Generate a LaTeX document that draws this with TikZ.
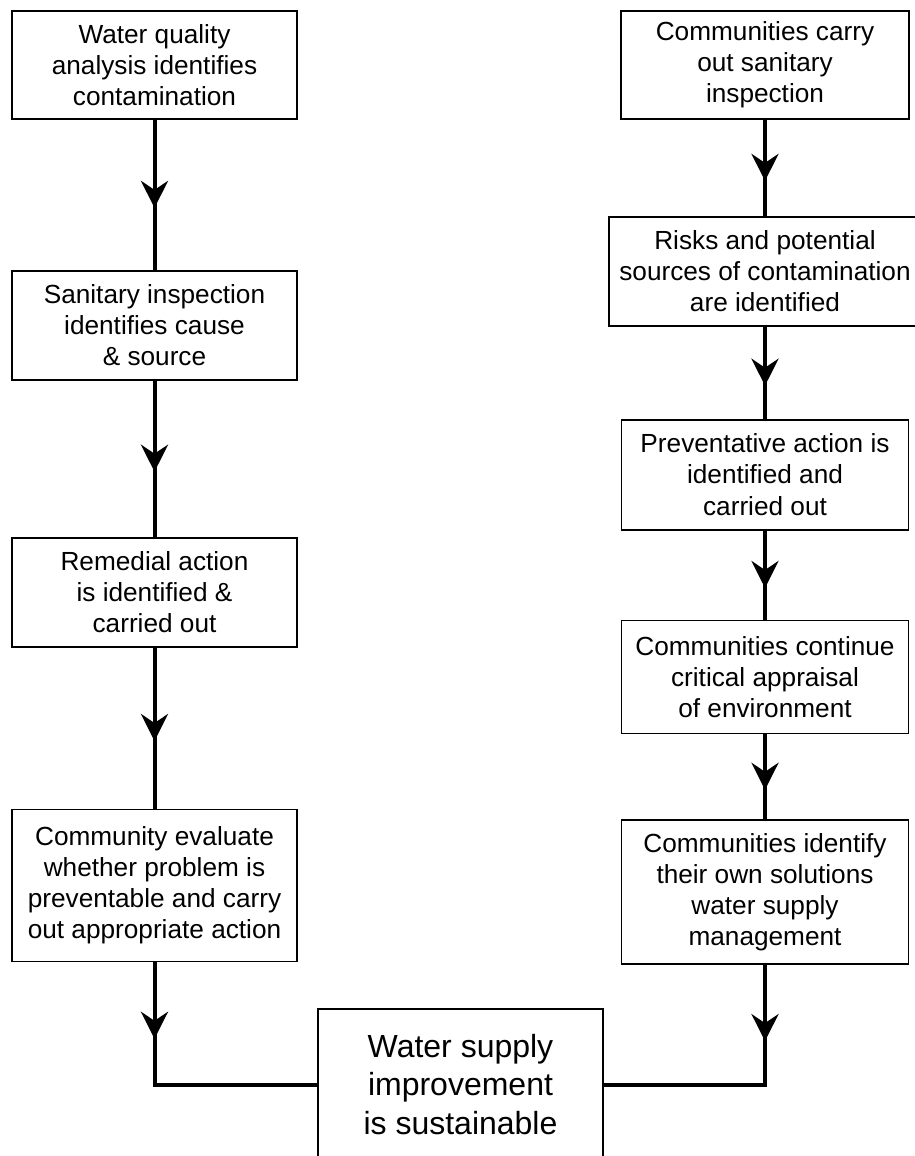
\documentclass[tikz,border=0pt]{standalone}
\usepackage{fontspec}
\setmainfont{Liberation Sans}
\usetikzlibrary{arrows.meta,positioning,decorations.markings}
\tikzset{
  stage/.style={draw, rectangle, line width=0.9pt, align=center, inner sep=0pt, font=\fontsize{13.1}{15.6}\selectfont, minimum width=142.5pt, minimum height=54.5pt},
  goal/.style={stage, font=\fontsize{16}{19.4}\selectfont},
  link/.style={line width=2pt},
  flow/.style={link, postaction={decorate}, decoration={markings, mark=at position #1 with {\arrow[xshift=6.5pt]{Stealth[length=13.5pt,width=13.5pt,inset=4.5pt]}}}},
  flow/.default=0.5,
}

\begin{document}
\begin{tikzpicture}
\useasboundingbox (0,0) rectangle (457.5pt,-578pt);
% left column: contamination found by analysis
\node[stage, minimum height=54pt] (wqa) at (77.25pt,-32.5pt) {Water quality\\analysis identifies\\contamination};
\node[stage, below=75pt of wqa] (san) {Sanitary inspection\\identifies cause\\\& source};
\node[stage, below=78pt of san] (rem) {Remedial action\\is identified \&\\carried out};
\node[stage, below=80.5pt of rem, minimum height=76pt] (eval) {Community evaluate\\whether problem is\\preventable and carry\\out appropriate action};
% right column: community-led inspection
\node[stage, minimum width=144pt, minimum height=54pt] (insp) at (382.5pt,-32.5pt) {Communities carry\\out sanitary\\inspection};
\node[stage, below=48pt of insp, minimum width=156pt] (risk) {Risks and potential\\sources of contamination\\are identified};
\node[stage, below=46pt of risk, minimum width=143.5pt, minimum height=55pt] (prev) {Preventative action is\\identified and\\carried out};
\node[stage, below=44.5pt of prev, minimum width=143.5pt, minimum height=56.5pt] (appr) {Communities continue\\critical appraisal\\of environment};
\node[stage, below=42.5pt of appr, minimum width=143.5pt, minimum height=72pt] (own) {Communities identify\\their own solutions\\water supply\\management};
% common outcome
\node[goal, minimum height=75.5pt] (sust) at (230.25pt,-542.25pt) {Water supply\\improvement\\is sustainable};

\draw[flow] (wqa) -- (san);
\draw[flow] (san) -- (rem);
\draw[flow] (rem) -- (eval);
\draw[flow=31.75pt] (eval) |- (sust);
\draw[flow] (insp) -- (risk);
\draw[flow] (risk) -- (prev);
\draw[flow] (prev) -- (appr);
\draw[flow] (appr) -- (own);
\draw[flow=31.5pt] (own) |- (sust);
\end{tikzpicture}
\end{document}
